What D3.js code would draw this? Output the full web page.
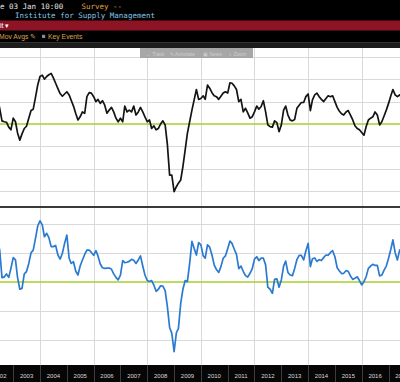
<!DOCTYPE html>
<html><head><meta charset="utf-8">
<script src="https://cdn.jsdelivr.net/npm/d3@7"></script>
<style>html,body{margin:0;padding:0;background:#000;overflow:hidden}</style>
</head><body><svg id="c" width="400" height="382"></svg>
<script>
// ---- data (monthly, first value = May 2002) ----
const startMonth = "2002-05";
const pmi = [
  55.5,
  53.5, 50.7, 50.5, 50.4, 49.3, 48.7, 51.3,
  50.5, 48.0, 46.4, 47.8, 49.0, 49.5, 51.3, 53.0, 53.3, 56.0, 58.7, 60.6,
  60.9, 60.0, 60.6, 61.0, 61.3, 60.3, 59.1, 57.9, 56.8, 56.2, 56.7, 57.2,
  56.5, 55.3, 54.0, 52.4, 50.9, 51.6, 52.7, 52.4, 56.1, 57.0, 56.9, 56.1,
  55.0, 55.5, 54.6, 55.2, 54.2, 52.4, 53.1, 53.7, 52.7, 51.3, 50.5, 51.3,
  50.5, 54.0, 52.7, 53.1, 52.7, 54.0, 52.0, 52.7, 53.7, 52.7, 51.6, 50.5,
  50.9, 49.0, 49.6, 48.7, 49.0, 50.0, 50.7, 49.8, 45.5, 38.6, 38.6, 34.9,
  36.0, 36.8, 37.5, 40.5, 44.2, 47.9, 50.5, 53.1, 55.4, 57.7, 55.5, 55.7,
  56.3, 55.5, 58.7, 58.0, 57.0, 56.3, 56.1, 55.5, 56.2, 56.9, 57.2, 56.9,
  59.2, 59.1, 58.5, 57.7, 55.0, 55.5, 52.7, 53.5, 52.5, 51.3, 51.6, 52.7,
  54.0, 53.3, 53.9, 55.2, 52.7, 49.8, 49.4, 49.3, 50.7, 50.3, 48.3, 49.8,
  53.1, 54.0, 52.0, 50.9, 50.7, 51.0, 53.5, 54.2, 54.8, 54.8, 56.1, 56.7,
  53.0, 55.4, 56.5, 56.9, 56.1, 55.5, 55.0, 55.7, 56.3, 56.1, 56.3, 55.0,
  53.7, 52.9, 52.3, 52.0, 52.7, 53.0, 52.0, 50.9, 49.6, 49.0, 48.7, 48.1,
  47.5, 49.4, 50.9, 51.3, 51.6, 52.7, 52.0, 49.8, 50.5, 51.8, 53.1, 54.6,
  56.3, 57.7, 56.5, 56.1, 56.5, 56.0
];
const newOrders = [
  64.0,
  61.0, 51.5, 51.7, 52.8, 51.6, 54.7, 58.4,
  57.6, 51.6, 47.5, 47.8, 52.8, 53.6, 56.4, 60.1, 61.0, 65.1, 69.3, 71.1,
  69.7, 65.6, 66.8, 65.3, 62.2, 62.2, 62.6, 59.3, 57.9, 59.9, 63.3, 66.2,
  58.2, 56.4, 57.0, 53.8, 52.4, 55.5, 57.6, 59.5, 61.0, 61.0, 60.2, 59.2,
  60.8, 59.0, 56.2, 54.9, 54.7, 54.8, 54.8, 54.4, 52.8, 51.6, 50.7, 52.4,
  57.4, 56.7, 56.8, 57.1, 57.8, 57.5, 56.4, 57.6, 59.0, 55.5, 52.4, 50.5,
  50.2, 50.5, 48.9, 46.8, 47.5, 48.7, 48.6, 47.0, 41.6, 34.3, 32.3, 26.0,
  32.5, 34.0, 42.6, 47.5, 50.5, 50.1, 56.4, 64.0, 61.6, 59.3, 63.6, 62.8,
  59.1, 58.2, 62.8, 62.0, 59.3, 55.9, 54.3, 53.3, 55.3, 58.2, 59.0, 61.5,
  64.1, 63.3, 61.3, 59.5, 54.6, 55.5, 53.7, 52.2, 51.7, 53.0, 54.5, 57.9,
  58.7, 57.4, 58.2, 58.2, 55.9, 48.2, 47.5, 46.1, 50.9, 51.1, 48.2, 50.7,
  55.5, 57.2, 53.3, 52.4, 52.2, 54.6, 57.7, 59.2, 59.2, 57.6, 60.7, 63.3,
  55.3, 58.0, 58.3, 57.1, 57.7, 57.4, 58.4, 59.3, 59.2, 60.2, 60.8, 58.7,
  54.9, 53.9, 52.9, 53.0, 53.9, 53.7, 52.1, 50.9, 51.3, 51.8, 50.5, 49.0,
  50.1, 51.8, 54.7, 55.5, 56.1, 55.7, 55.7, 52.1, 52.4, 54.1, 55.5, 58.2,
  61.3, 64.5, 60.1, 57.6, 61.0, 61.6
];
const yearLabels = ["2002","2003","2004","2005","2006","2007","2008","2009","2010",
                    "2011","2012","2013","2014","2015","2016","2017"];
const gridYears = ["2002","2004","2006","2008","2010","2012","2014","2016"];
const upperTicks = [35, 40, 45, 50, 55, 60, 65];
const lowerTicks = [30, 40, 50, 60, 70];
const refLevel = 50;
const headerTexts = {release:"e 03 Jan 10:00", survey:"Survey --", source:"Institute for Supply Management"};

// ---- drawing ----
const svg = d3.select("#c");
const W = 400, H = 382;
const parseM = d3.utcParse("%Y-%m");
const parseY = d3.utcParse("%Y");
const t0 = parseM(startMonth);
// plot each month at its period end
const dates = pmi.map((_, i) => d3.utcMonth.offset(t0, i + 1));

const x = d3.scaleUtc()
  .domain([parseY("2004"), parseY("2016")])
  .range([40, 361.7]);

const plotTop = 48, upBottom = 206, lowTop = 208, lowBottom = 365;
const yU = d3.scaleLinear().domain([35, 65]).range([191.2, 56.8]);
const yL = d3.scaleLinear().domain([30, 70]).range([340, 224]);

// header
svg.append("rect").attr("width", W).attr("height", 42).attr("fill", "#000");
const mono = "'DejaVu Sans Mono', monospace";
svg.append("text").attr("x", 0).attr("y", 9).attr("fill", "#e6e6e6")
  .style("font", `7.5px ${mono}`).text(headerTexts.release);
svg.append("text").attr("x", 81.5).attr("y", 9).attr("fill", "#e0a040")
  .style("font", `7.5px ${mono}`).text(headerTexts.survey);
svg.append("text").attr("x", 15).attr("y", 17.6).attr("fill", "#86c6e6")
  .style("font", `7.5px ${mono}`).text(headerTexts.source);
svg.append("rect").attr("y", 20.5).attr("width", W).attr("height", 10).attr("fill", "#8c1424");
svg.append("text").attr("x", 0).attr("y", 28.3).attr("fill", "#fff")
  .style("font", "7px 'Liberation Sans', Arial, sans-serif").text("it \u25BE");
const sans = "'Liberation Sans', Arial, sans-serif";
svg.append("text").attr("x", -1).attr("y", 39.2).attr("fill", "#dca050")
  .style("font", `6.8px ${sans}`).text("Mov Avgs");
svg.append("text").attr("x", 29.5).attr("y", 39.2).attr("fill", "#dca050")
  .style("font", `6.8px ${sans}`).text("\u270E");
svg.append("rect").attr("x", 42).attr("y", 34.8).attr("width", 3.2).attr("height", 3.2).attr("fill", "#8a8a8a");
svg.append("text").attr("x", 48).attr("y", 39.2).attr("fill", "#dca050")
  .style("font", `6.8px ${sans}`).text("Key Events");
svg.append("rect").attr("y", 42).attr("width", W).attr("height", 6).attr("fill", "#1c1c1c");
svg.append("rect").attr("y", 42).attr("width", W).attr("height", 1).attr("fill", "#333");

// plot background
svg.append("rect").attr("y", plotTop).attr("width", W).attr("height", lowBottom - plotTop).attr("fill", "#fff");

// horizontal gridlines
const grid = svg.append("g").attr("stroke", "#d9d9d9").attr("stroke-width", 1);
grid.selectAll(".hu").data(upperTicks.filter(v => v !== refLevel)).join("line")
  .attr("x1", 0).attr("x2", W)
  .attr("y1", d => Math.round(yU(d)) + 0.5).attr("y2", d => Math.round(yU(d)) + 0.5);
grid.selectAll(".hl").data(lowerTicks.filter(v => v !== refLevel)).join("line")
  .attr("x1", 0).attr("x2", W)
  .attr("y1", d => Math.round(yL(d)) + 0.5).attr("y2", d => Math.round(yL(d)) + 0.5);
// vertical gridlines
grid.selectAll(".v").data(gridYears).join("line")
  .attr("x1", d => Math.round(x(parseY(d))) + 0.5).attr("x2", d => Math.round(x(parseY(d))) + 0.5)
  .attr("y1", plotTop).attr("y2", lowBottom);

// panel separator
svg.append("rect").attr("y", upBottom).attr("width", W).attr("height", 2).attr("fill", "#3a3a3a");

// reference lines
svg.append("line").attr("x1", 0).attr("x2", W).attr("y1", yU(refLevel)).attr("y2", yU(refLevel))
  .attr("stroke", "#a6d02c").attr("stroke-width", 1.6);
svg.append("line").attr("x1", 0).attr("x2", W).attr("y1", yL(refLevel)).attr("y2", yL(refLevel))
  .attr("stroke", "#a6d02c").attr("stroke-width", 1.6);

// clips
const defs = svg.append("defs");
defs.append("clipPath").attr("id", "cu").append("rect")
  .attr("x", 0).attr("y", plotTop).attr("width", W).attr("height", upBottom - plotTop);
defs.append("clipPath").attr("id", "cl").append("rect")
  .attr("x", 0).attr("y", lowTop).attr("width", W).attr("height", lowBottom - lowTop);

const lineU = d3.line().x((d, i) => x(dates[i])).y(d => yU(d));
const lineL = d3.line().x((d, i) => x(dates[i])).y(d => yL(d));

svg.append("path").datum(pmi).attr("clip-path", "url(#cu)")
  .attr("d", lineU).attr("fill", "none").attr("stroke", "#141414")
  .attr("stroke-width", 1.7).attr("stroke-linejoin", "round");
svg.append("path").datum(newOrders).attr("clip-path", "url(#cl)")
  .attr("d", lineL).attr("fill", "none").attr("stroke", "#2a7ad2")
  .attr("stroke-width", 1.7).attr("stroke-linejoin", "round");

// toolbar overlay
const tb = svg.append("g");
tb.append("rect").attr("x", 140).attr("y", 48).attr("width", 113).attr("height", 10)
  .attr("fill", "#9d9d9d").attr("opacity", 0.9);
const tbItems = [["\u2190 Track", 146], ["\u270E Annotate", 170], ["\u25A3 News", 203], ["\u2315 Zoom", 229]];
tb.selectAll("text").data(tbItems).join("text")
  .attr("x", d => d[1]).attr("y", 55.5).attr("fill", "#cfcfcf")
  .style("font", `5px ${sans}`).text(d => d[0]);

// x axis band
svg.append("rect").attr("y", lowBottom).attr("width", W).attr("height", H - lowBottom).attr("fill", "#060606");
const boundaries = yearLabels.concat(["2018"]);
svg.append("g").selectAll("line").data(boundaries).join("line")
  .attr("x1", d => Math.round(x(parseY(d))) + 0.5).attr("x2", d => Math.round(x(parseY(d))) + 0.5)
  .attr("y1", lowBottom).attr("y2", H).attr("stroke", "#3c3c3c").attr("stroke-width", 1);
svg.append("g").selectAll("text").data(yearLabels).join("text")
  .attr("x", d => (x(parseY(d)) + x(d3.utcYear.offset(parseY(d), 1))) / 2)
  .attr("y", 377.5).attr("text-anchor", "middle").attr("fill", "#d8d8d8")
  .style("font", `6px ${sans}`).text(d => d);
</script>
</body></html>
